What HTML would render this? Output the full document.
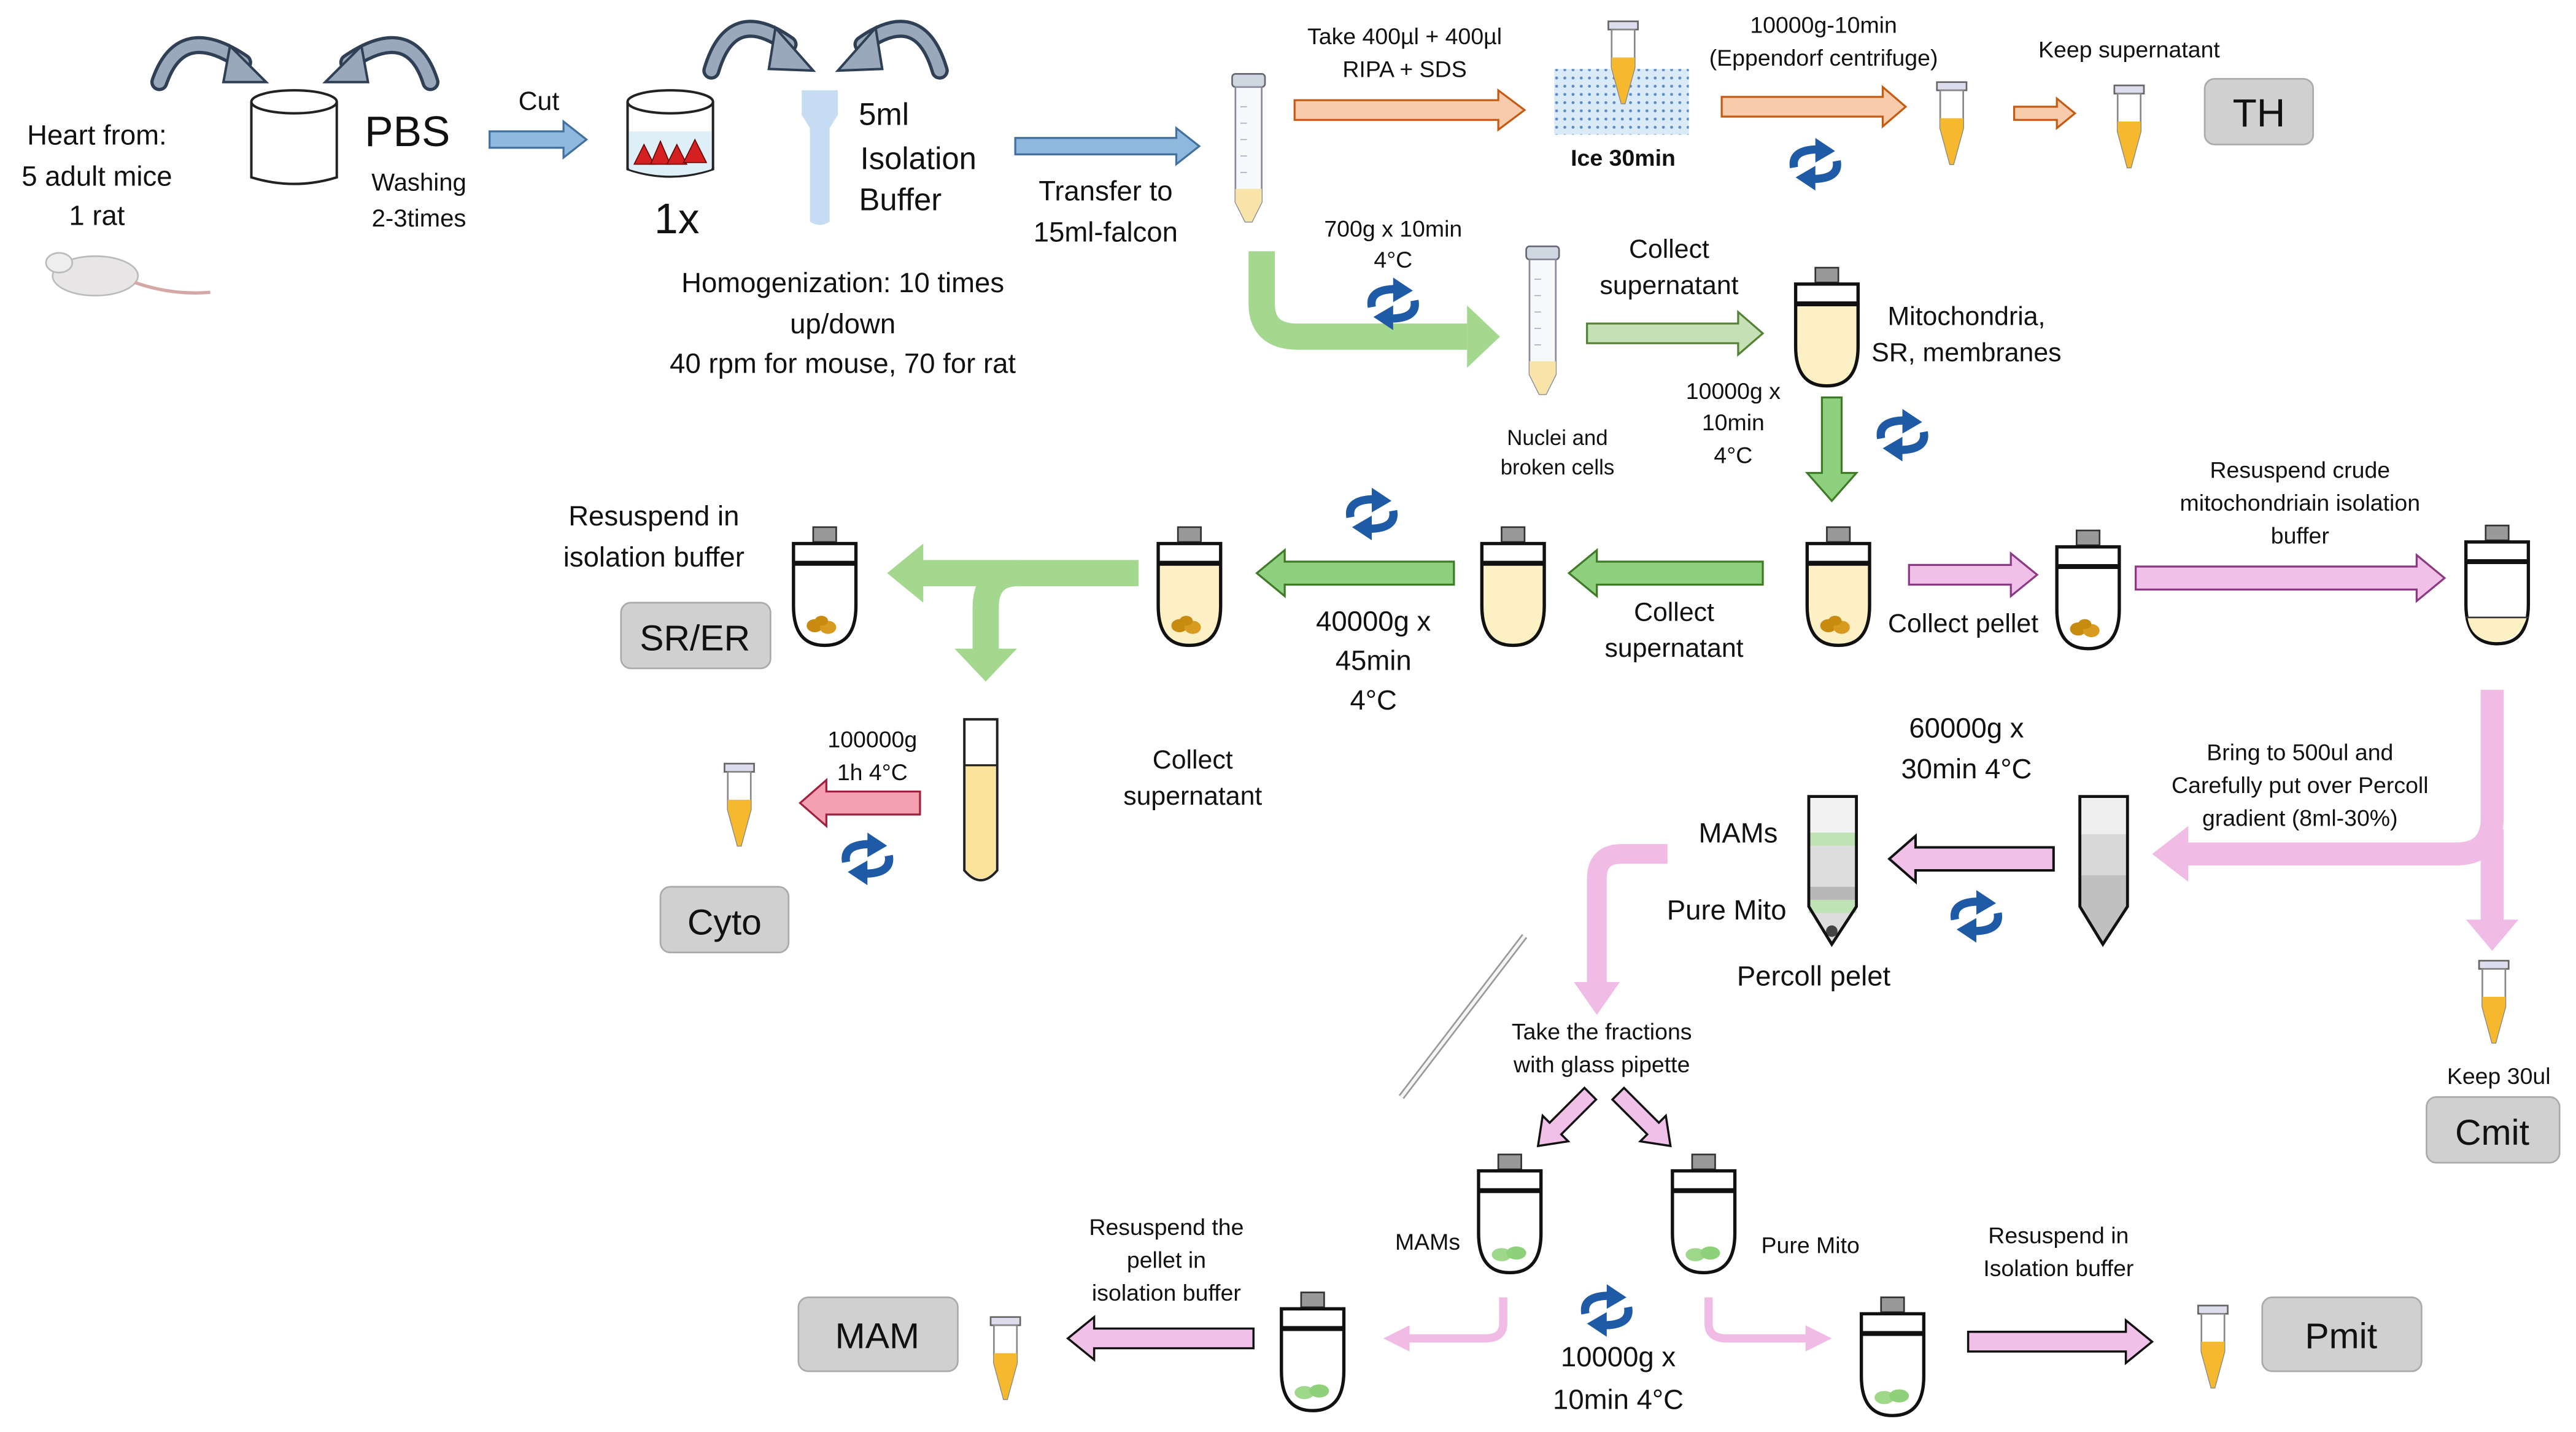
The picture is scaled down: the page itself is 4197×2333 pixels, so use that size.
<!DOCTYPE html>
<html><head><meta charset="utf-8"><style>
html,body{margin:0;padding:0;background:#fff;}
svg{display:block;}
text{font-family:"Liberation Sans",Arial,sans-serif;fill:#111;text-anchor:middle;}
</style></head><body>
<svg width="4197" height="2333" viewBox="0 0 1568 872" preserveAspectRatio="none" xmlns="http://www.w3.org/2000/svg">
<defs>
 <g id="rot">
  <path d="M-13,2 Q-15,-9 2,-9" fill="none" stroke="#1f5aa6" stroke-width="5"/>
  <polygon points="0,-16 12,-8 0,-1" fill="#1f5aa6"/>
  <path d="M13,-2 Q15,9 -2,9" fill="none" stroke="#1f5aa6" stroke-width="5"/>
  <polygon points="0,16 -12,8 0,1" fill="#1f5aa6"/>
 </g>
 <g id="uc">
  <rect x="12" y="0" width="14" height="9" fill="#999" stroke="#333" stroke-width="1"/>
  <path d="M0,10 H38 V48 Q38,72 19,72 Q0,72 0,48 Z" fill="#fff" stroke="#111" stroke-width="2"/>
  <line x1="0" y1="22" x2="38" y2="22" stroke="#111" stroke-width="3"/>
 </g>
 <g id="ucy">
  <rect x="12" y="0" width="14" height="9" fill="#999" stroke="#333" stroke-width="1"/>
  <path d="M0,22 H38 V48 Q38,72 19,72 Q0,72 0,48 Z" fill="#fdf0c4"/>
  <path d="M0,10 H38 V48 Q38,72 19,72 Q0,72 0,48 Z" fill="none" stroke="#111" stroke-width="2"/>
  <line x1="0" y1="22" x2="38" y2="22" stroke="#111" stroke-width="3"/>
 </g>
 <g id="pel"><ellipse cx="13" cy="60" rx="5" ry="4" fill="#c98a10"/><ellipse cx="21" cy="61" rx="5" ry="4" fill="#d99a20"/><ellipse cx="17" cy="57" rx="4" ry="3" fill="#c98a10"/></g>
 <g id="gpel"><ellipse cx="14" cy="61" rx="6" ry="4" fill="#9fd88a"/><ellipse cx="23" cy="60" rx="6" ry="4" fill="#8fd07a"/></g>
 <g id="ep">
  <rect x="0" y="0" width="18" height="5" fill="#dde" stroke="#666" stroke-width="1"/>
  <path d="M2,5 H16 V28 L10,50 H8 L2,28 Z" fill="#fff" stroke="#888" stroke-width="1"/>
  <path d="M2,22 H16 V28 L10,50 H8 L2,28 Z" fill="#f5b82e"/>
 </g>
 <g id="fal">
  <rect x="0" y="0" width="20" height="8" rx="2" fill="#cfd8e0" stroke="#667" stroke-width="1"/>
  <path d="M2,8 H18 V78 L12,90 H8 L2,78 Z" fill="#f6f8fa" stroke="#889" stroke-width="1"/>
  <path d="M2,70 H18 V78 L12,90 H8 L2,78 Z" fill="#f8e3a8"/>
  <g stroke="#aab" stroke-width="0.6"><line x1="5" y1="20" x2="9" y2="20"/><line x1="5" y1="30" x2="9" y2="30"/><line x1="5" y1="40" x2="9" y2="40"/><line x1="5" y1="50" x2="9" y2="50"/><line x1="5" y1="60" x2="9" y2="60"/></g>
 </g>
</defs>

<!-- mouse -->
<ellipse cx="58" cy="168" rx="26" ry="12" fill="#e8e6e6" stroke="#bbb" stroke-width="1"/>
<ellipse cx="36" cy="160" rx="8" ry="6" fill="#eee" stroke="#bbb" stroke-width="1"/>
<path d="M82,172 Q105,180 128,178" fill="none" stroke="#d6a7a7" stroke-width="2"/>
<text x="59" y="88" font-size="17">Heart from:</text>
<text x="59" y="113" font-size="17">5 adult mice</text>
<text x="59" y="137" font-size="17">1 rat</text>

<!-- top curved arrows -->
<g fill="none" stroke-linecap="round">
 <path d="M97,50 Q110,12 148,38" stroke="#2f3f55" stroke-width="11"/><path d="M97,50 Q110,12 148,38" stroke="#9aa8bb" stroke-width="7"/>
 <path d="M262,50 Q250,12 212,38" stroke="#2f3f55" stroke-width="11"/><path d="M262,50 Q250,12 212,38" stroke="#9aa8bb" stroke-width="7"/>
 <path d="M433,43 Q445,2 480,27" stroke="#2f3f55" stroke-width="11"/><path d="M433,43 Q445,2 480,27" stroke="#9aa8bb" stroke-width="7"/>
 <path d="M572,43 Q560,2 525,27" stroke="#2f3f55" stroke-width="11"/><path d="M572,43 Q560,2 525,27" stroke="#9aa8bb" stroke-width="7"/>
</g>
<g fill="#9aa8bb" stroke="#2f3f55" stroke-width="1.5">
 <polygon points="140,28 162,50 136,50"/><polygon points="220,28 198,50 224,50"/>
 <polygon points="472,17 495,43 468,42"/><polygon points="533,17 510,43 537,42"/>
</g>

<!-- beaker 1 -->
<path d="M153,62 V108 Q179,116 205,108 V62" fill="#fff" stroke="#222" stroke-width="1.5"/>
<ellipse cx="179" cy="62" rx="26" ry="7" fill="#fff" stroke="#222" stroke-width="1.5"/>
<text x="248" y="89" font-size="26">PBS</text>
<text x="255" y="116" font-size="15">Washing</text>
<text x="255" y="138" font-size="15">2-3times</text>
<text x="328" y="67" font-size="16">Cut</text>
<polygon points="298,80 343,80 343,74 357,85 343,96 343,90 298,90" fill="#8fb8de" stroke="#41719c" stroke-width="1.2"/>

<!-- beaker 2 -->
<path d="M382,62 V103 Q408,112 434,103 V62" fill="#fff" stroke="#222" stroke-width="1.5"/>
<path d="M383,80 V103 Q408,111 433,103 V80 Z" fill="#dfeff8"/>
<ellipse cx="408" cy="62" rx="26" ry="7" fill="#fff" stroke="#222" stroke-width="1.5"/>
<g fill="#d42020" stroke="#600" stroke-width="0.6"><polygon points="386,100 392,88 398,100"/><polygon points="396,100 402,86 408,100"/><polygon points="406,100 412,88 418,100"/><polygon points="416,99 423,85 430,99"/></g>
<text x="412" y="142" font-size="26">1x</text>

<!-- pipette tip -->
<path d="M488,55 H510 V70 L505,78 V135 Q499,139 493,135 V78 L488,70 Z" fill="#c6dcf2"/>
<text x="538" y="76" font-size="19">5ml</text>
<text x="559" y="103" font-size="19">Isolation</text>
<text x="548" y="128" font-size="19">Buffer</text>
<text x="513" y="178" font-size="17">Homogenization: 10 times</text>
<text x="513" y="203" font-size="17">up/down</text>
<text x="513" y="227" font-size="17">40 rpm for mouse, 70 for rat</text>

<polygon points="618,84 716,84 716,78 730,89 716,100 716,94 618,94" fill="#8fb8de" stroke="#41719c" stroke-width="1.2"/>
<text x="673" y="122" font-size="17">Transfer to</text>
<text x="673" y="147" font-size="17">15ml-falcon</text>
<use href="#fal" x="750" y="45"/>

<text x="855" y="27" font-size="14">Take 400µl + 400µl</text>
<text x="855" y="47" font-size="14">RIPA + SDS</text>
<polygon points="788,61 912,61 912,55 928,67 912,79 912,73 788,73" fill="#f8cbad" stroke="#c55a11" stroke-width="1.2"/>
<pattern id="dots" width="5" height="5" patternUnits="userSpaceOnUse"><rect width="5" height="5" fill="#dbeaf7"/><circle cx="2.5" cy="2.5" r="0.9" fill="#5a8cc8"/></pattern>
<rect x="946" y="42" width="82" height="40" fill="url(#dots)"/>
<use href="#ep" x="979" y="13"/>
<text x="988" y="101" font-size="14" font-weight="bold">Ice 30min</text>
<text x="1110" y="20" font-size="14">10000g-10min</text>
<text x="1110" y="40" font-size="14">(Eppendorf centrifuge)</text>
<polygon points="1048,59 1146,59 1146,53 1160,65 1146,77 1146,71 1048,71" fill="#f8cbad" stroke="#c55a11" stroke-width="1.2"/>
<use href="#rot" x="1105" y="100"/>
<use href="#ep" x="1179" y="50"/>
<polygon points="1226,65 1252,65 1252,60 1263,69 1252,78 1252,73 1226,73" fill="#f8cbad" stroke="#c55a11" stroke-width="1.2"/>
<text x="1296" y="35" font-size="14">Keep supernatant</text>
<use href="#ep" x="1287" y="52"/>
<rect x="1342" y="48" width="66" height="40" rx="6" fill="#d0d0d0" stroke="#aaa"/>
<text x="1375" y="77" font-size="24">TH</text>

<!-- green L arrow -->
<path d="M768,153 L768,185 Q768,205 790,205 L893,205" fill="none" stroke="#a4d88f" stroke-width="16"/>
<polygon points="893,186 913,205 893,224" fill="#a4d88f"/>
<text x="848" y="144" font-size="14">700g x 10min</text>
<text x="848" y="163" font-size="14">4°C</text>
<use href="#rot" x="848" y="185"/>
<use href="#fal" x="929" y="150"/>
<text x="948" y="271" font-size="13">Nuclei and</text>
<text x="948" y="289" font-size="13">broken cells</text>
<text x="1016" y="157" font-size="16">Collect</text>
<text x="1016" y="179" font-size="16">supernatant</text>
<polygon points="966,197 1058,197 1058,190 1073,203 1058,216 1058,209 966,209" fill="#c5e0b4" stroke="#548235" stroke-width="1.2"/>
<use href="#ucy" x="1093" y="163"/>
<text x="1197" y="198" font-size="16">Mitochondria,</text>
<text x="1197" y="220" font-size="16">SR, membranes</text>
<polygon points="1109,242 1121,242 1121,288 1130,288 1115,305 1100,288 1109,288" fill="#8fd080" stroke="#3f7a25" stroke-width="1.2"/>
<text x="1055" y="243" font-size="14">10000g x</text>
<text x="1055" y="262" font-size="14">10min</text>
<text x="1055" y="282" font-size="14">4°C</text>
<use href="#rot" x="1158" y="265"/>

<!-- row 2 -->
<use href="#ucy" x="1100" y="321"/><use href="#pel" x="1100" y="321"/>
<polygon points="1162,344 1224,344 1224,337 1240,350 1224,363 1224,356 1162,356" fill="#f0c0e8" stroke="#8a3a82" stroke-width="1.2"/>
<text x="1195" y="385" font-size="16">Collect pellet</text>
<use href="#uc" x="1252" y="323"/><use href="#pel" x="1252" y="323"/>
<text x="1400" y="291" font-size="14">Resuspend crude</text>
<text x="1400" y="311" font-size="14">mitochondriain isolation</text>
<text x="1400" y="331" font-size="14">buffer</text>
<polygon points="1300,345 1471,345 1471,338 1488,352 1471,366 1471,359 1300,359" fill="#f0c0e8" stroke="#8a3a82" stroke-width="1.2"/>
<use href="#uc" x="1501" y="320"/>
<path d="M1502,376 H1538 Q1534,390 1519,391 Q1504,390 1502,376 Z" fill="#fdf0c4"/>
<line x1="1501" y1="376" x2="1539" y2="376" stroke="#333" stroke-width="1"/>

<polygon points="1073,342 972,342 972,335 955,349 972,363 972,356 1073,356" fill="#8fd080" stroke="#3f7a25" stroke-width="1.2"/>
<text x="1019" y="378" font-size="16">Collect</text>
<text x="1019" y="400" font-size="16">supernatant</text>
<use href="#ucy" x="902" y="321"/>
<polygon points="885,342 782,342 782,335 765,349 782,363 782,356 885,356" fill="#8fd080" stroke="#3f7a25" stroke-width="1.2"/>
<use href="#rot" x="835" y="313"/>
<text x="836" y="384" font-size="17">40000g x</text>
<text x="836" y="408" font-size="17">45min</text>
<text x="836" y="432" font-size="17">4°C</text>
<use href="#ucy" x="705" y="321"/><use href="#pel" x="705" y="321"/>
<path d="M693,349 L560,349" stroke="#a4d88f" stroke-width="16" fill="none"/>
<polygon points="562,331 540,349 562,367" fill="#a4d88f"/>
<path d="M620,349 Q600,349 600,370 L600,396" stroke="#a4d88f" stroke-width="16" fill="none"/>
<polygon points="581,395 600,415 619,395" fill="#a4d88f"/>
<use href="#uc" x="483" y="321"/><use href="#pel" x="483" y="321"/>
<text x="398" y="320" font-size="17">Resuspend in</text>
<text x="398" y="345" font-size="17">isolation buffer</text>
<rect x="378" y="367" width="91" height="40" rx="6" fill="#d0d0d0" stroke="#aaa"/>
<text x="423" y="396" font-size="22">SR/ER</text>

<!-- tall tube -->
<path d="M587,438 H607 V530 Q597,542 587,530 Z" fill="#fff" stroke="#222" stroke-width="1.5"/>
<path d="M588,466 H606 V530 Q597,540 588,530 Z" fill="#fbe39c"/>
<line x1="587" y1="466" x2="607" y2="466" stroke="#222" stroke-width="1.2"/>
<polygon points="560,482 503,482 503,475 487,489 503,503 503,496 560,496" fill="#f4a0b0" stroke="#a02040" stroke-width="1.2"/>
<text x="531" y="455" font-size="14">100000g</text>
<text x="531" y="475" font-size="14">1h 4°C</text>
<use href="#rot" x="528" y="523"/>
<use href="#ep" x="441" y="465"/>
<rect x="402" y="540" width="78" height="40" rx="6" fill="#d0d0d0" stroke="#aaa"/>
<text x="441" y="569" font-size="22">Cyto</text>
<text x="726" y="468" font-size="16">Collect</text>
<text x="726" y="490" font-size="16">supernatant</text>

<!-- right big pink -->
<path d="M1517,420 L1517,498 Q1517,520 1495,520 L1330,520" fill="none" stroke="#f0bce6" stroke-width="14"/>
<polygon points="1332,503 1310,520 1332,537" fill="#f0bce6"/>
<path d="M1517,505 L1517,562" fill="none" stroke="#f0bce6" stroke-width="14"/>
<polygon points="1501,560 1517,579 1533,560" fill="#f0bce6"/>
<text x="1400" y="463" font-size="14">Bring to 500ul and</text>
<text x="1400" y="483" font-size="14">Carefully put over Percoll</text>
<text x="1400" y="503" font-size="14">gradient (8ml-30%)</text>
<use href="#ep" x="1509" y="585"/>
<text x="1521" y="660" font-size="14">Keep 30ul</text>
<rect x="1477" y="668" width="81" height="40" rx="6" fill="#d0d0d0" stroke="#aaa"/>
<text x="1517" y="697" font-size="22">Cmit</text>

<!-- percoll tubes -->
<path d="M1266,485 H1295 V552 L1280,575 L1266,552 Z" fill="#eee"/>
<rect x="1266" y="508" width="29" height="25" fill="#d8d8d8"/>
<path d="M1266,533 H1295 V552 L1280,575 L1266,552 Z" fill="#c0c0c0"/>
<path d="M1266,485 H1295 V552 L1280,575 L1266,552 Z" fill="none" stroke="#111" stroke-width="1.8"/>
<text x="1197" y="449" font-size="17">60000g x</text>
<text x="1197" y="474" font-size="17">30min 4°C</text>
<polygon points="1250,516 1166,516 1166,509 1150,523 1166,537 1166,530 1250,530" fill="#f0c0e8" stroke="#111" stroke-width="1.5"/>
<use href="#rot" x="1203" y="558"/>
<path d="M1101,485 H1130 V552 L1115,575 L1101,552 Z" fill="#ddd"/>
<rect x="1101" y="485" width="29" height="22" fill="#f2f2f2"/>
<rect x="1101" y="507" width="29" height="8" fill="#bfe3b4"/>
<rect x="1101" y="540" width="29" height="8" fill="#b8b8b8"/>
<rect x="1101" y="548" width="29" height="8" fill="#bfe3b4"/>
<circle cx="1115" cy="567" r="3.5" fill="#444"/>
<path d="M1101,485 H1130 V552 L1115,575 L1101,552 Z" fill="none" stroke="#111" stroke-width="1.8"/>
<text x="1058" y="513" font-size="17">MAMs</text>
<text x="1051" y="560" font-size="17">Pure Mito</text>
<text x="1104" y="600" font-size="17">Percoll pelet</text>

<path d="M1015,520 L987,520 Q972,520 972,535 L972,600" fill="none" stroke="#f0bce6" stroke-width="12"/>
<polygon points="958,598 972,618 986,598" fill="#f0bce6"/>
<!-- glass pipette -->
<line x1="928" y1="570" x2="853" y2="668" stroke="#999" stroke-width="4"/>
<line x1="928" y1="570" x2="853" y2="668" stroke="#f5f5f5" stroke-width="2"/>
<text x="975" y="633" font-size="14">Take the fractions</text>
<text x="975" y="653" font-size="14">with glass pipette</text>
<g transform="translate(968,666) rotate(135)"><polygon points="0,-5 30,-5 30,-11 45,0 30,11 30,5 0,5" fill="#f0c0e8" stroke="#111" stroke-width="1.3"/></g>
<g transform="translate(985,666) rotate(45)"><polygon points="0,-5 30,-5 30,-11 45,0 30,11 30,5 0,5" fill="#f0c0e8" stroke="#111" stroke-width="1.3"/></g>
<use href="#uc" x="900" y="703"/><use href="#gpel" x="900" y="703"/>
<use href="#uc" x="1018" y="703"/><use href="#gpel" x="1018" y="703"/>
<text x="869" y="761" font-size="14">MAMs</text>
<text x="1102" y="763" font-size="14">Pure Mito</text>
<path d="M915,790 L915,806 Q915,815 904,815 L856,815" fill="none" stroke="#f0bce6" stroke-width="5"/>
<polygon points="858,807 842,815 858,823" fill="#f0bce6"/>
<path d="M1040,790 L1040,806 Q1040,815 1051,815 L1100,815" fill="none" stroke="#f0bce6" stroke-width="5"/>
<polygon points="1099,807 1115,815 1099,823" fill="#f0bce6"/>
<use href="#rot" x="978" y="798"/>
<text x="985" y="832" font-size="17">10000g x</text>
<text x="985" y="858" font-size="17">10min 4°C</text>
<use href="#uc" x="780" y="787"/><use href="#gpel" x="780" y="787"/>
<polygon points="763,809 666,809 666,802 650,815 666,828 666,821 763,821" fill="#f0c0e8" stroke="#111" stroke-width="1.3"/>
<text x="710" y="752" font-size="14">Resuspend the</text>
<text x="710" y="772" font-size="14">pellet in</text>
<text x="710" y="792" font-size="14">isolation buffer</text>
<use href="#ep" x="603" y="802"/>
<rect x="486" y="790" width="97" height="45" rx="6" fill="#d0d0d0" stroke="#aaa"/>
<text x="534" y="821" font-size="22">MAM</text>
<use href="#uc" x="1133" y="790"/><use href="#gpel" x="1133" y="790"/>
<polygon points="1198,811 1294,811 1294,804 1310,817 1294,830 1294,823 1198,823" fill="#f0c0e8" stroke="#111" stroke-width="1.3"/>
<text x="1253" y="757" font-size="14">Resuspend in</text>
<text x="1253" y="777" font-size="14">Isolation buffer</text>
<use href="#ep" x="1338" y="795"/>
<rect x="1377" y="790" width="97" height="45" rx="6" fill="#d0d0d0" stroke="#aaa"/>
<text x="1425" y="821" font-size="22">Pmit</text>
</svg>
</body></html>
